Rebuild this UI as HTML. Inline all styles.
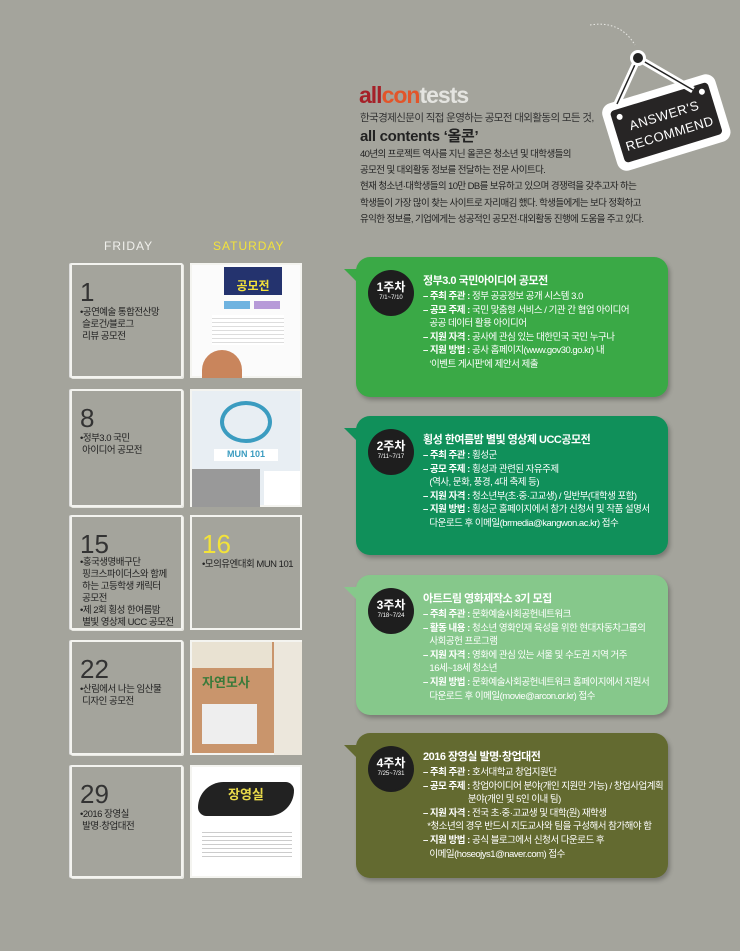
<!DOCTYPE html>
<html><head><meta charset="utf-8"><style>
*{margin:0;padding:0;box-sizing:border-box}
body{width:740px;height:951px;background:#a4a49c;position:relative;overflow:hidden;font-family:"Liberation Sans","Noto Sans CJK KR",sans-serif;color:#222}
.a{position:absolute}
.fri{position:absolute;left:70px;width:113px;border:2px solid #f4f4f0;border-radius:2px;box-shadow:1px 1px 0 #e8e8e2,-1px 0 0 #ddd}
.sat{position:absolute;left:190px;width:112px;border:2px solid #f4f4f0}
.num{position:absolute;left:8px;top:12px;font-size:26px;color:#333;font-family:"Liberation Sans Narrow","Liberation Sans",sans-serif;font-weight:300}
.txt{position:absolute;left:8px;top:42px;font-size:9.5px;line-height:12px;color:#222;letter-spacing:-0.5px}
.box{position:absolute;left:356px;width:312px;border-radius:14px;box-shadow:2px 3px 4px rgba(0,0,0,.25);color:#fff}
.tail{position:absolute;left:-12px;top:12px;width:0;height:0;border-top:0 solid transparent;border-bottom:14px solid transparent;border-right:14px solid}
.badge{position:absolute;left:14px;width:42px;height:42px;border-radius:50%;background:#1e1e1e;color:#fff;text-align:center;font-weight:bold;font-size:12px;line-height:13px;padding-top:9px;box-shadow:0 0 0 2px #1e1e1e}
.badge small{display:block;font-size:6px;line-height:8px;font-weight:normal}
.bt{position:absolute;left:67px;top:17px;font-size:11px;line-height:15px;font-weight:bold;letter-spacing:-0.5px}
.bl{position:absolute;left:67px;top:33px;font-size:9.5px;line-height:13.6px;letter-spacing:-0.5px;white-space:nowrap}
.bl b{font-weight:bold}
</style></head><body>

<div class="a" style="left:359px;top:82px;font-size:23px;font-weight:bold;letter-spacing:-1px;line-height:26px"><span style="color:#a52028">all</span><span style="color:#e2552a">con</span><span style="color:#e4e4e0">tests</span></div>
<div class="a" style="left:360px;top:110px;font-size:10.5px;letter-spacing:-0.6px;color:#333">한국경제신문이 직접 운영하는 공모전 대외활동의 모든 것,</div>
<div class="a" style="left:360px;top:125px;font-size:15px;font-weight:bold;color:#222;letter-spacing:-0.3px">all contents ‘올콘’</div>
<div class="a" style="left:360px;top:147px;font-size:9.5px;line-height:16.2px;letter-spacing:-0.6px;color:#222">40년의 프로젝트 역사를 지닌 올콘은 청소년 및 대학생들의<br>공모전 및 대외활동 정보를 전달하는 전문 사이트다.<br>현재 청소년·대학생들의 10만 DB를 보유하고 있으며 경쟁력을 갖추고자 하는<br>학생들이 가장 많이 찾는 사이트로 자리매김 했다. 학생들에게는 보다 정확하고<br>유익한 정보를, 기업에게는 성공적인 공모전·대외활동 진행에 도움을 주고 있다.</div>

<svg class="a" style="left:590px;top:0" width="150" height="180">
<path d="M0 25 Q30 20 45 45" stroke="#e8e8e4" stroke-dasharray="1.5 2" fill="none"/>
<g transform="rotate(-17 75 125)">
<rect x="18" y="88" width="118" height="70" rx="10" fill="#fff"/>
<rect x="26" y="96" width="102" height="54" rx="4" fill="#272525"/>
<circle cx="34" cy="104" r="3" fill="#fff"/><circle cx="120" cy="104" r="3" fill="#fff"/>
</g>
<path d="M48 58 L27 104 M48 58 L103 90" stroke="#fff" stroke-width="7" fill="none"/>
<path d="M48 58 L27 104 M48 58 L103 90" stroke="#222" stroke-width="1.5" fill="none"/>
<circle cx="48" cy="58" r="8" fill="#fff"/><circle cx="48" cy="58" r="5" fill="#222"/>
<g transform="rotate(-17 75 125)" fill="#fff" font-family="Liberation Sans Narrow,Liberation Sans,sans-serif" font-size="13" text-anchor="middle" letter-spacing="0.5"><text x="77" y="120">ANSWER'S</text><text x="77" y="139">RECOMMEND</text></g>
</svg>

<div class="a" style="left:104px;top:239px;font-size:12px;color:#f0f0ec;letter-spacing:1px">FRIDAY</div>
<div class="a" style="left:213px;top:239px;font-size:12px;color:#f3e33a;letter-spacing:1px">SATURDAY</div>

<div class="fri" style="top:263px;height:115px"><div class="num">1</div><div class="txt">•공연예술 통합전산망<br>&nbsp;슬로건/블로그<br>&nbsp;리뷰 공모전</div></div>
<div class="fri" style="top:389px;height:118px"><div class="num">8</div><div class="txt">•정부3.0 국민<br>&nbsp;아이디어 공모전</div></div>
<div class="fri" style="top:515px;height:115px"><div class="num">15</div><div class="txt" style="top:40px">•홍국생명배구단<br>&nbsp;핑크스파이더스와 함께<br>&nbsp;하는 고등학생 캐릭터<br>&nbsp;공모전<br>•제 2회 횡성 한여름밤<br>&nbsp;별빛 영상제 UCC 공모전</div></div>
<div class="fri" style="top:640px;height:115px"><div class="num">22</div><div class="txt">•산림에서 나는 임산물<br>&nbsp;디자인 공모전</div></div>
<div class="fri" style="top:765px;height:113px"><div class="num">29</div><div class="txt">•2016 장영실<br>&nbsp;발명·창업대전</div></div>

<div class="sat" style="top:263px;height:115px;background:#fbfbfb">
 <div class="a" style="left:32px;top:2px;width:58px;height:28px;background:#24336e;color:#f4e23a;font-size:12px;font-weight:bold;text-align:center;padding-top:12px;line-height:14px">공모전</div>
 <div class="a" style="left:32px;top:36px;width:26px;height:8px;background:#6fb3e0"></div><div class="a" style="left:62px;top:36px;width:26px;height:8px;background:#b79ad8"></div>
 <div class="a" style="left:20px;top:50px;width:72px;height:30px;background:repeating-linear-gradient(#fff 0 3px,#ddd 3px 4px)"></div>
 <div class="a" style="left:10px;top:85px;width:40px;height:28px;background:#c9855c;border-radius:20px 20px 0 0"></div>
</div>
<div class="sat" style="top:389px;height:118px;background:#e8eef3">
 <div class="a" style="left:28px;top:10px;width:52px;height:42px;border-radius:50%;border:4px solid #3b9cc0"></div>
 <div class="a" style="left:22px;top:58px;width:64px;height:12px;background:#fff;color:#3b9cc0;font-size:9px;font-weight:bold;text-align:center">MUN 101</div>
 <div class="a" style="left:0;top:78px;width:68px;height:38px;background:#999"></div>
 <div class="a" style="left:72px;top:80px;width:36px;height:34px;background:#fff"></div>
</div>
<div class="sat" style="top:515px;height:115px;background:#a4a49c"><div class="num" style="color:#f3e33a;left:10px">16</div><div class="txt" style="left:10px">•모의유엔대회 MUN 101</div></div>
<div class="sat" style="top:640px;height:115px;background:#c9956c">
 <div class="a" style="left:0;top:0;width:80px;height:26px;background:#e9e2d2"></div>
 <div class="a" style="left:82px;top:0;width:28px;height:113px;background:#ece7dc"></div>
 <div class="a" style="left:10px;top:30px;width:60px;font-size:13px;font-weight:bold;color:#3a7a3a">자연모사</div>
 <div class="a" style="left:10px;top:62px;width:55px;height:40px;background:#eee"></div>
</div>
<div class="sat" style="top:765px;height:113px;background:#fff">
 <div class="a" style="left:6px;top:15px;width:96px;height:34px;background:#222;border-radius:30px 10px 30px 10px;color:#e8d94a;font-size:13px;font-weight:bold;padding:2px 0 0 30px">장영실</div>
 <div class="a" style="left:10px;top:62px;width:90px;height:30px;background:repeating-linear-gradient(#fff 0 3px,#ccc 3px 4px)"></div>
</div>

<div class="box" style="top:257px;height:140px;background:#3aa946"><div class="tail" style="border-right-color:#3aa946"></div>
 <div class="badge" style="top:15px">1주차<small>7/1~7/10</small></div>
 <div class="bt">정부3.0 국민아이디어 공모전</div>
 <div class="bl"><b>– 주최 주관 :</b> 정부 공공정보 공개 시스템 3.0<br><b>– 공모 주제 :</b> 국민 맞춤형 서비스 / 기관 간 협업 아이디어<br>&nbsp;&nbsp;&nbsp;공공 데이터 활용 아이디어<br><b>– 지원 자격 :</b> 공사에 관심 있는 대한민국 국민 누구나<br><b>– 지원 방법 :</b> 공사 홈페이지(www.gov30.go.kr) 내<br>&nbsp;&nbsp;&nbsp;‘이벤트 게시판’에 제안서 제출</div></div>

<div class="box" style="top:416px;height:139px;background:#10905a"><div class="tail" style="border-right-color:#10905a"></div>
 <div class="badge" style="top:15px">2주차<small>7/11~7/17</small></div>
 <div class="bt">횡성 한여름밤 별빛 영상제 UCC공모전</div>
 <div class="bl"><b>– 주최 주관 :</b> 횡성군<br><b>– 공모 주제 :</b> 횡성과 관련된 자유주제<br>&nbsp;&nbsp;&nbsp;(역사, 문화, 풍경, 4대 축제 등)<br><b>– 지원 자격 :</b> 청소년부(초·중·고교생) / 일반부(대학생 포함)<br><b>– 지원 방법 :</b> 횡성군 홈페이지에서 참가 신청서 및 작품 설명서<br>&nbsp;&nbsp;&nbsp;다운로드 후 이메일(brmedia@kangwon.ac.kr) 접수</div></div>

<div class="box" style="top:575px;height:140px;background:#86c88b"><div class="tail" style="border-right-color:#86c88b"></div>
 <div class="badge" style="top:15px">3주차<small>7/18~7/24</small></div>
 <div class="bt">아트드림 영화제작소 3기 모집</div>
 <div class="bl"><b>– 주최 주관 :</b> 문화예술사회공헌네트워크<br><b>– 활동 내용 :</b> 청소년 영화인재 육성을 위한 현대자동차그룹의<br>&nbsp;&nbsp;&nbsp;사회공헌 프로그램<br><b>– 지원 자격 :</b> 영화에 관심 있는 서울 및 수도권 지역 거주<br>&nbsp;&nbsp;&nbsp;16세~18세 청소년<br><b>– 지원 방법 :</b> 문화예술사회공헌네트워크 홈페이지에서 지원서<br>&nbsp;&nbsp;&nbsp;다운로드 후 이메일(movie@arcon.or.kr) 접수</div></div>

<div class="box" style="top:733px;height:145px;background:#636a30"><div class="tail" style="border-right-color:#636a30"></div>
 <div class="badge" style="top:15px">4주차<small>7/25~7/31</small></div>
 <div class="bt">2016 장영실 발명·창업대전</div>
 <div class="bl"><b>– 주최 주관 :</b> 호서대학교 창업지원단<br><b>– 공모 주제 :</b> 창업아이디어 분야(개인 지원만 가능) / 창업사업계획<br>&nbsp;&nbsp;&nbsp;&nbsp;&nbsp;&nbsp;&nbsp;&nbsp;&nbsp;&nbsp;&nbsp;&nbsp;&nbsp;&nbsp;&nbsp;&nbsp;&nbsp;&nbsp;&nbsp;&nbsp;&nbsp;분야(개인 및 5인 이내 팀)<br><b>– 지원 자격 :</b> 전국 초·중·고교생 및 대학(원) 재학생<br>&nbsp;&nbsp;*청소년의 경우 반드시 지도교사와 팀을 구성해서 참가해야 함<br><b>– 지원 방법 :</b> 공식 블로그에서 신청서 다운로드 후<br>&nbsp;&nbsp;&nbsp;이메일(hoseojys1@naver.com) 접수</div></div>

</body></html>
